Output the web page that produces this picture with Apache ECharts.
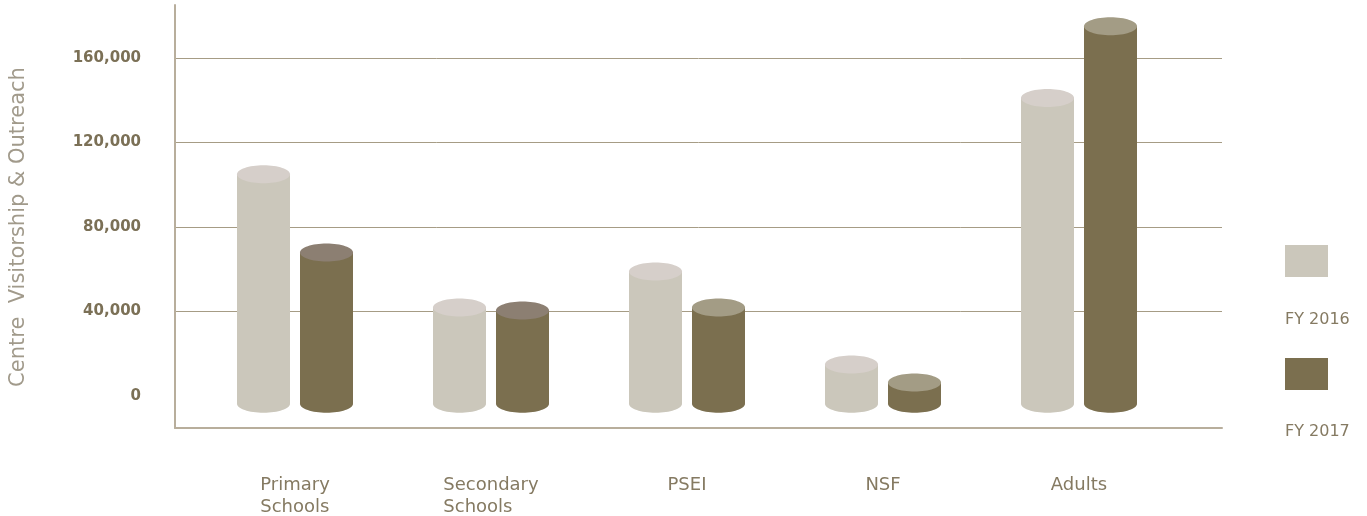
<!DOCTYPE html>
<html>
<head>
<meta charset="utf-8">
<script src="https://cdn.jsdelivr.net/npm/echarts@6/dist/echarts.min.js"></script>
<style>
  html, body { margin: 0; padding: 0; background: #ffffff; }
  #chart { width: 1367px; height: 516px; }
</style>
</head>
<body>
<div id="chart"></div>
<script>
// ---- data ----
const CATEGORIES = ['Primary\nSchools', 'Secondary\nSchools', 'PSEI', 'NSF', 'Adults'];
const SERIES_NAMES = ['FY 2016', 'FY 2017'];
const FY2016 = [105000, 42000, 59000, 15000, 141000];
const FY2017 = [68000, 40500, 42000, 6500, 175000];
const Y_TICKS = [0, 40000, 80000, 120000, 160000];
const Y_TITLE = 'Centre  Visitorship & Outreach';

// ---- styles ----
const FONT = '"DejaVu Sans", sans-serif';
const BODY_2016 = '#cbc7bb';
const TOP_2016 = ['#d6cfca', '#d6cfca', '#d6cfca', '#d6cfca', '#d6cfca'];
const BODY_2017 = '#7b6f4f';
const TOP_2017 = ['#8c7f72', '#8c7f72', '#a39c85', '#a39c85', '#a39c85'];
const AXIS_COLOR = '#b8ae9c';
const GRID_COLOR = '#a69c85';
const RX = 26.5, RY = 9, BASE_DROP = 7.5, HALF_GAP = 31.5;

function makeRender(offset, bodyColor, topColors) {
  return function (params, api) {
    const idx = api.value(0);
    const v = api.value(1);
    const top = api.coord([idx, v]);
    const base = api.coord([idx, 0]);
    const cx = top[0] + offset;
    const ty = top[1];
    const by = base[1] + BASE_DROP;
    return {
      type: 'group',
      children: [
        { type: 'ellipse', shape: { cx: cx, cy: by, rx: RX, ry: RY }, style: { fill: bodyColor } },
        { type: 'rect', shape: { x: cx - RX, y: ty, width: 2 * RX, height: by - ty }, style: { fill: bodyColor } },
        { type: 'ellipse', shape: { cx: cx, cy: ty, rx: RX, ry: RY }, style: { fill: topColors[idx] } }
      ]
    };
  };
}

const chart = echarts.init(document.getElementById('chart'), null, { renderer: 'canvas' });

const option = {
  backgroundColor: '#ffffff',
  animation: false,
  grid: [
    { left: 175, right: 145, top: 5, bottom: 88 },          // frame
    { left: 175, right: 145, top: 58, bottom: 120 },        // labels + gridlines
    { left: 197, right: 190, top: 5, bottom: 88 }           // bars
  ],
  xAxis: [
    {
      gridIndex: 0, type: 'category', data: CATEGORIES,
      axisLine: { show: true, onZero: false, lineStyle: { color: AXIS_COLOR, width: 2 } },
      axisTick: { show: false }, axisLabel: { show: false }, splitLine: { show: false }
    },
    {
      gridIndex: 1, type: 'category', data: CATEGORIES, show: false
    },
    {
      gridIndex: 2, type: 'category', data: CATEGORIES,
      axisLine: { show: false, onZero: false }, axisTick: { show: false }, splitLine: { show: false },
      axisLabel: {
        margin: 46,
        interval: 0,
        formatter: function (v) {
          return v.split('\n').map(function (s) { return '{a|' + s + '}'; }).join('\n');
        },
        rich: {
          a: { fontFamily: FONT, fontSize: 18, lineHeight: 22, color: '#857a62', align: 'left' }
        }
      }
    }
  ],
  yAxis: [
    {
      gridIndex: 0, type: 'value', min: -15000, max: 185000,
      axisLine: { show: true, onZero: false, lineStyle: { color: AXIS_COLOR, width: 2 } },
      axisTick: { show: false }, axisLabel: { show: false }, splitLine: { show: false }
    },
    {
      gridIndex: 1, type: 'value',
      min: Y_TICKS[0], max: Y_TICKS[Y_TICKS.length - 1], interval: Y_TICKS[1] - Y_TICKS[0],
      axisLine: { show: false }, axisTick: { show: false },
      splitLine: { show: true, showMinLine: false, lineStyle: { color: GRID_COLOR, width: 1 } },
      axisLabel: {
        margin: 34,
        fontFamily: FONT, fontSize: 15, fontWeight: 'bold', color: '#7b7056',
        formatter: function (v) { return Y_TICKS.indexOf(v) >= 0 ? v.toLocaleString('en-US') : ''; }
      },
      name: Y_TITLE,
      nameLocation: 'middle',
      nameRotate: 90,
      nameGap: 146,
      nameTextStyle: { fontFamily: FONT, fontSize: 21, color: '#a19a8b' }
    },
    {
      gridIndex: 2, type: 'value', min: -15000, max: 185000, show: false
    }
  ],
  legend: [
    {
      data: SERIES_NAMES,
      orient: 'vertical', left: 1285, top: 245, padding: 0,
      itemWidth: 43, itemHeight: 32, itemGap: 81,
      icon: 'rect',
      formatter: function () { return ''; },
      textStyle: { fontSize: 1 }
    },
    {
      data: SERIES_NAMES,
      orient: 'vertical', left: 1280, top: 310, padding: 0,
      itemWidth: 0, itemHeight: 10, itemGap: 92,
      icon: 'none',
      textStyle: { fontFamily: FONT, fontSize: 16, lineHeight: 20, color: '#857a62' }
    }
  ],
  series: [
    {
      name: SERIES_NAMES[0], type: 'custom', coordinateSystem: 'cartesian2d',
      xAxisIndex: 2, yAxisIndex: 2,
      itemStyle: { color: BODY_2016 },
      encode: { x: 0, y: 1 },
      renderItem: makeRender(-HALF_GAP, BODY_2016, TOP_2016),
      data: FY2016.map(function (v, i) { return [i, v]; })
    },
    {
      name: SERIES_NAMES[1], type: 'custom', coordinateSystem: 'cartesian2d',
      xAxisIndex: 2, yAxisIndex: 2,
      itemStyle: { color: BODY_2017 },
      encode: { x: 0, y: 1 },
      renderItem: makeRender(HALF_GAP, BODY_2017, TOP_2017),
      data: FY2017.map(function (v, i) { return [i, v]; })
    }
  ]
};

chart.setOption(option);
</script>
</body>
</html>
